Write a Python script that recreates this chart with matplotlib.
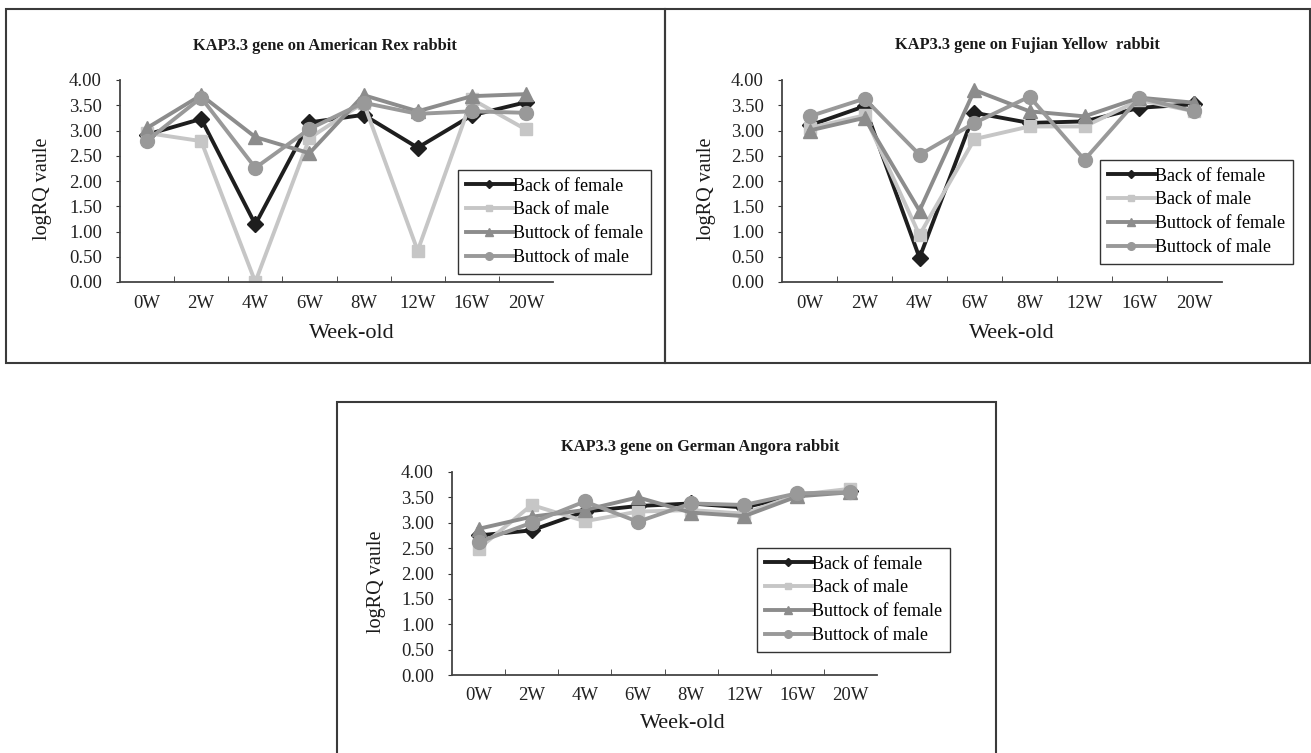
import numpy as np
import matplotlib
matplotlib.use("Agg")
import matplotlib.pyplot as plt
from matplotlib.patches import Rectangle

plt.rcParams['font.family'] = ['Liberation Serif', 'DejaVu Serif']

# categories and series
weeks = ['0W', '2W', '4W', '6W', '8W', '12W', '16W', '20W']
series_names = ['Back of female', 'Back of male', 'Buttock of female', 'Buttock of male']

rex_back_f = [2.92, 3.23, 1.14, 3.16, 3.31, 2.66, 3.30, 3.56]
rex_back_m = [2.95, 2.79, 0.00, 2.85, 3.55, 0.62, 3.62, 3.02]
rex_butt_f = [3.05, 3.70, 2.87, 2.55, 3.70, 3.38, 3.68, 3.72]
rex_butt_m = [2.80, 3.65, 2.26, 3.03, 3.55, 3.33, 3.38, 3.35]

fuj_back_f = [3.10, 3.48, 0.48, 3.35, 3.15, 3.18, 3.45, 3.52]
fuj_back_m = [3.05, 3.30, 0.93, 2.83, 3.08, 3.08, 3.60, 3.38]
fuj_butt_f = [3.00, 3.25, 1.41, 3.80, 3.38, 3.28, 3.65, 3.55]
fuj_butt_m = [3.28, 3.63, 2.52, 3.15, 3.67, 2.42, 3.65, 3.38]

ger_back_f = [2.75, 2.85, 3.22, 3.33, 3.38, 3.30, 3.55, 3.62]
ger_back_m = [2.49, 3.35, 3.03, 3.22, 3.25, 3.18, 3.55, 3.67]
ger_butt_f = [2.88, 3.12, 3.25, 3.50, 3.20, 3.13, 3.52, 3.60]
ger_butt_m = [2.62, 3.00, 3.42, 3.02, 3.38, 3.35, 3.58, 3.60]

titles = ['KAP3.3 gene on American Rex rabbit',
          'KAP3.3 gene on Fujian Yellow  rabbit',
          'KAP3.3 gene on German Angora rabbit']

colors = ['#1e1e1e', '#c6c6c6', '#8c8c8c', '#999999']
markers = ['D', 's', '^', 'o']
msizes = [8, 9, 9.5, 10]

W, H = 1311, 753
fig = plt.figure(figsize=(W / 100, H / 100), dpi=100)


def fx(px):
    return px / W


def fy(py):
    return 1 - py / H


def panel(rect, data, title, frame, legend_xy, title_xy, xlabel_xy, ylabel_x):
    l, t, r, b = rect
    ax = fig.add_axes([fx(l), fy(b), fx(r - l), fy(t) - fy(b)])
    x = np.arange(len(weeks))
    for vals, c, m, ms, name in zip(data, colors, markers, msizes, series_names):
        ax.plot(x, vals, color=c, lw=2.8, marker=m, ms=ms, mec=c, mfc=c, label=name)
    ax.set_xlim(-0.5, len(weeks) - 0.5)
    ax.set_ylim(0, 4)
    ax.set_yticks(np.arange(0, 4.01, 0.5))
    ax.set_yticklabels(['%.2f' % v for v in np.arange(0, 4.01, 0.5)])
    ax.set_xticks(x)
    ax.set_xticklabels(weeks)
    ax.set_xticks(np.arange(0.5, len(weeks) - 0.5, 1), minor=True)
    ax.tick_params(axis='x', which='major', length=0, pad=9, labelsize=13.5, labelcolor='#222222')
    ax.tick_params(axis='x', which='minor', length=4, direction='in', color='#333333')
    ax.tick_params(axis='y', length=3, pad=10, direction='out', labelsize=13.5, color='#333333',
                   labelcolor='#222222')
    for s in ['top', 'right']:
        ax.spines[s].set_visible(False)
    for s in ['left', 'bottom']:
        ax.spines[s].set_color('#444444')
        ax.spines[s].set_linewidth(1.3)
    ax.set_zorder(2)
    fig.text(fx(title_xy[0]), fy(title_xy[1]), title, ha='center', va='center',
             fontsize=11.8, fontweight='bold', color='#1a1a1a')
    fig.text(fx(xlabel_xy[0]), fy(xlabel_xy[1]), 'Week-old', ha='center', va='center',
             fontsize=16, color='#1a1a1a')
    fig.text(fx(ylabel_x), fy((t + b) / 2 + 8), 'logRQ vaule', ha='center', va='center',
             rotation=90, fontsize=14.5, color='#1a1a1a')
    leg = ax.legend(loc='upper left', bbox_to_anchor=(fx(legend_xy[0]), fy(legend_xy[1])),
                    bbox_transform=fig.transFigure, fancybox=False, framealpha=1,
                    edgecolor='#333333', fontsize=13, handlelength=2.6, handletextpad=0.05,
                    labelspacing=0.38, borderpad=0.42, markerscale=0.55, borderaxespad=0)
    leg.get_frame().set_linewidth(1.0)
    fl, ft, fr, fb = frame
    fig.add_artist(Rectangle((fx(fl), fy(fb)), fx(fr - fl), fy(ft) - fy(fb),
                             transform=fig.transFigure, fill=False,
                             edgecolor='#3a3a3a', lw=1.5, zorder=0))
    return ax


panel((120, 80, 553, 282), [rex_back_f, rex_back_m, rex_butt_f, rex_butt_m], titles[0],
      (6, 9, 665, 363), (458, 170), (325, 46), (352, 333), 43)
panel((782, 80, 1222, 282), [fuj_back_f, fuj_back_m, fuj_butt_f, fuj_butt_m], titles[1],
      (665, 9, 1310, 363), (1100, 160), (1027, 45), (1012, 333), 706)
panel((452, 472, 877, 675), [ger_back_f, ger_back_m, ger_butt_f, ger_butt_m], titles[2],
      (337, 402, 996, 760), (757, 548), (700, 447), (683, 723), 376)

fig.savefig('out.png', dpi=100)
